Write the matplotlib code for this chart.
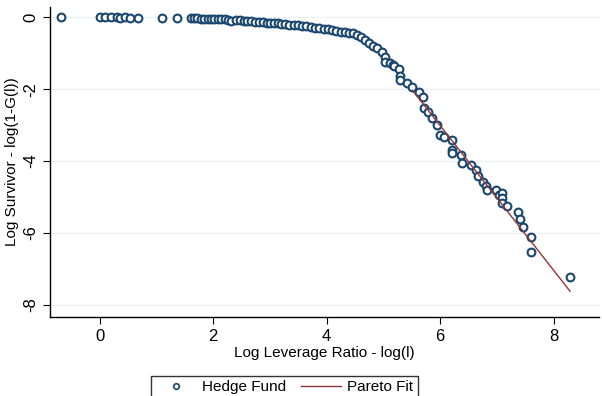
import numpy as np
import matplotlib
matplotlib.use("Agg")
import matplotlib.pyplot as plt
from matplotlib.lines import Line2D

plt.rcParams['font.family'] = ['Liberation Sans', 'DejaVu Sans']

# hedge fund log leverage vs log survivor
log_lev = [-0.69, 0.0, 0.09, 0.2, 0.3, 0.36, 0.45, 0.53, 0.67, 1.09, 1.36,
           1.6, 1.66, 1.72, 1.78, 1.84, 1.9, 1.96, 2.02, 2.08, 2.14, 2.2, 2.26,
           2.32, 2.4, 2.47, 2.54, 2.6, 2.67, 2.74, 2.8, 2.87, 2.94, 3.0, 3.07,
           3.14, 3.2, 3.27, 3.34, 3.42, 3.5, 3.57, 3.64, 3.72, 3.8, 3.87, 3.95,
           4.02, 4.1, 4.17, 4.25, 4.33, 4.4, 4.47, 4.53,
           4.61, 4.67, 4.75, 4.81, 4.88, 4.98, 5.02, 5.02, 5.11, 5.16, 5.19,
           5.28, 5.30, 5.30, 5.42, 5.51, 5.63, 5.69, 5.72, 5.79, 5.85, 5.95,
           5.99, 6.07, 6.2, 6.21, 6.21, 6.37, 6.39, 6.55, 6.64, 6.67, 6.76,
           6.81, 6.83, 6.99, 7.04, 7.09, 7.09, 7.09, 7.17, 7.38, 7.41, 7.46,
           7.61, 7.61, 8.29]
log_surv = [0.0, 0.0, 0.0, 0.0, 0.0, -0.01, 0.0, -0.01, -0.01, -0.01, -0.02,
            -0.03, -0.03, -0.03, -0.04, -0.04, -0.04, -0.05, -0.05, -0.05, -0.06, -0.06, -0.07,
            -0.1, -0.08, -0.09, -0.1, -0.1, -0.11, -0.12, -0.13, -0.14, -0.15, -0.16, -0.16,
            -0.17, -0.18, -0.2, -0.22, -0.22, -0.23, -0.24, -0.25, -0.27, -0.29, -0.31, -0.33,
            -0.34, -0.36, -0.38, -0.40, -0.42, -0.43, -0.45, -0.5,
            -0.55, -0.64, -0.72, -0.8, -0.85, -0.97, -1.11, -1.25, -1.28, -1.33, -1.36,
            -1.45, -1.63, -1.75, -1.83, -1.94, -2.08, -2.22, -2.53, -2.64, -2.81, -3.0,
            -3.28, -3.33, -3.42, -3.69, -3.78, -3.83, -4.06, -4.11, -4.25, -4.42, -4.58,
            -4.69, -4.81, -4.81, -4.94, -4.89, -5.03, -5.17, -5.25, -5.42, -5.61, -5.83,
            -6.11, -6.53, -7.22]

# pareto fit line end points
fit_x = [5.51, 8.29]
fit_y = [-2.03, -7.62]

navy = '#1a476f'
maroon = '#90353b'

fig = plt.figure(figsize=(6.02, 3.96), dpi=100)
ax = fig.add_axes([0.083, 0.2, 0.912, 0.782])

for yy in [0, -2, -4, -6, -8]:
    ax.axhline(yy, color='#eaf2f3', lw=0.9, zorder=0)

ax.plot(log_lev, log_surv, 'o', ms=5.6, mfc='white', mec=navy, mew=1.5, zorder=2)
ax.plot(fit_x, fit_y, '-', color=maroon, lw=1.0, zorder=3)

ax.set_xlim(-0.88, 8.8)
ax.set_ylim(-8.33, 0.28)
ax.set_xticks([0, 2, 4, 6, 8])
ax.set_yticks([0, -2, -4, -6, -8])
ax.set_yticklabels(['0', '-2', '-4', '-6', '-8'], rotation=90, va='center')
ax.tick_params(labelsize=12, length=5, width=0.8, color='black')

for s in ['top', 'right']:
    ax.spines[s].set_visible(False)
for s in ['left', 'bottom']:
    ax.spines[s].set_linewidth(1.0)

ax.set_xlabel("Log Leverage Ratio - log(l)", fontsize=11, labelpad=2)
ax.set_ylabel("Log Survivor - log(1-G(l))", fontsize=11, labelpad=3)

handles = [Line2D([], [], ls='none', marker='o', ms=4, mfc='white', mec=navy, mew=1.2),
           Line2D([], [], color=maroon, lw=1.0)]
leg = fig.legend(handles, ['Hedge Fund', 'Pareto Fit'], loc='upper center',
                 bbox_to_anchor=(0.4726, 0.0707), ncol=2, fontsize=11,
                 frameon=True, fancybox=False, edgecolor='black',
                 handlelength=2.6, columnspacing=1.0, borderpad=0.3, handletextpad=0.4)
leg.get_frame().set_linewidth(1.0)
fig.savefig("out.png", dpi=100)
